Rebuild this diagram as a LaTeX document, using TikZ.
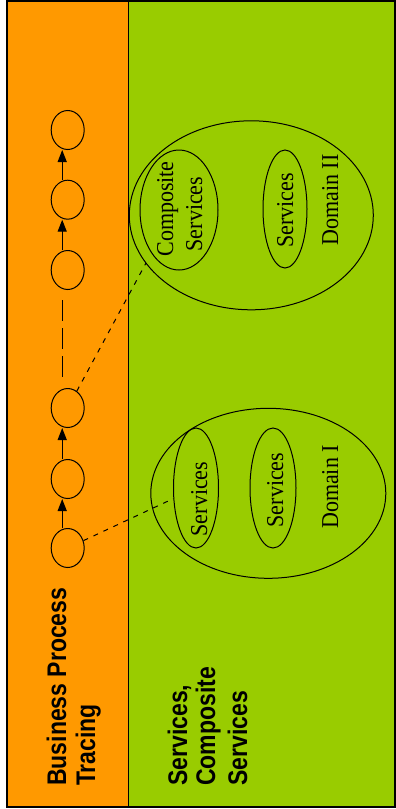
\documentclass[tikz,border=0pt]{standalone}
\usepackage{graphicx}
\usepackage{fontspec}
\setmainfont{Liberation Serif}
\newfontfamily\labelsans{Liberation Sans}
\usetikzlibrary{shapes.geometric,arrows.meta}
\definecolor{orangebg}{HTML}{FF9900}
\definecolor{greenbg}{HTML}{99CC00}
\newcommand{\tallserif}[1]{\scalebox{1}[1.1]{#1}}
\newcommand{\tallsans}[1]{\scalebox{1}[1.17]{#1}}
\begin{document}
\begin{tikzpicture}[x=1pt,y=1pt,
 proc/.style={draw,ellipse,line width=1pt,minimum width=33pt,minimum height=39pt,inner sep=0pt},
 oval/.style={draw,ellipse,line width=1pt,inner sep=0pt},
 arr/.style={line width=1.3pt,-{Triangle[length=12pt,width=9pt]}},
 dots/.style={line width=1pt,dash pattern=on 5pt off 6pt},
 dashline/.style={line width=1.3pt,dash pattern=on 21pt off 7pt},
 serif/.style={rotate=90,anchor=base,inner sep=0pt,font=\fontsize{22}{26}\selectfont},
 sans/.style={rotate=90,anchor=base west,inner sep=0pt,font=\labelsans\bfseries\fontsize{23}{27}\selectfont}]
\useasboundingbox (0,0) rectangle (396,-809);
\fill[white] (0,0) rectangle (396,-809);
\fill[orangebg] (7,-1) rectangle (128.7,-807);
\fill[greenbg] (128.7,-1) rectangle (395,-807);
\draw[line width=1.5pt] (128.7,-1) -- (128.7,-807);
\draw[line width=2pt] (7,-1) rectangle (395,-807);

% domains and service ovals
\node[oval,minimum width=244pt,minimum height=189pt] (d2) at (251.3,-215.3) {};
\node[oval,minimum width=78pt,minimum height=120pt] (comp) at (179,-210) {};
\node[oval,minimum width=44pt,minimum height=118pt] (s3) at (285,-209) {};
\node[oval,minimum width=235pt,minimum height=170pt] (d1) at (268.3,-493.3) {};
\node[oval,minimum width=45pt,minimum height=120pt] (s1) at (196,-488) {};
\node[oval,minimum width=46pt,minimum height=120pt] (s2) at (273,-488) {};

\node[serif] (t1) at (173,-209) {\tallserif{Composite}};
\node[serif] (t2) at (202,-214) {\tallserif{Services}};
\node[serif] (t3) at (293,-210.5) {\tallserif{Services}};
\node[serif] (t4) at (338,-200) {\tallserif{Domain II}};
\node[serif] (t5) at (207,-499) {\tallserif{Services}};
\node[serif] (t6) at (283,-490) {\tallserif{Services}};
\node[serif] (t7) at (338,-487) {\tallserif{Domain I}};

% process chain
\node[proc] (c1) at (67.7,-130) {};
\node[proc] (c2) at (67.7,-199.7) {};
\node[proc] (c3) at (67.7,-270) {};
\node[proc] (c4) at (67.7,-408) {};
\node[proc] (c5) at (67.7,-479) {};
\node[proc] (c6) at (67.7,-548) {};

\draw[arr] ([xshift=-5.5pt]c2.north) -- ([xshift=-5.5pt]c1.south);
\draw[arr] ([xshift=-5.5pt]c3.north) -- ([xshift=-5.5pt]c2.south);
\draw[arr] ([xshift=-5.5pt]c5.north) -- ([xshift=-5.5pt]c4.south);
\draw[arr] ([xshift=-5.5pt]c6.north) -- ([xshift=-5.5pt]c5.south);
\draw[dashline] ([xshift=-5.5pt,yshift=-10pt]c3.south) -- ([xshift=-5.5pt,yshift=10pt]c4.north);

\coordinate (e1) at (146,-263);
\draw[dots] (c4) -- (e1);
\draw[dots] (c6) -- (s1);

\node[sans] (b1) at (66,-786) {\tallsans{Business Process}};
\node[sans] (b2) at (95,-786) {\tallsans{Tracing}};
\node[sans] (g1) at (187,-786) {\tallsans{Services,}};
\node[sans] (g2) at (215,-786) {\tallsans{Composite}};
\node[sans] (g3) at (247,-786) {\tallsans{Services}};
\end{tikzpicture}
\end{document}
